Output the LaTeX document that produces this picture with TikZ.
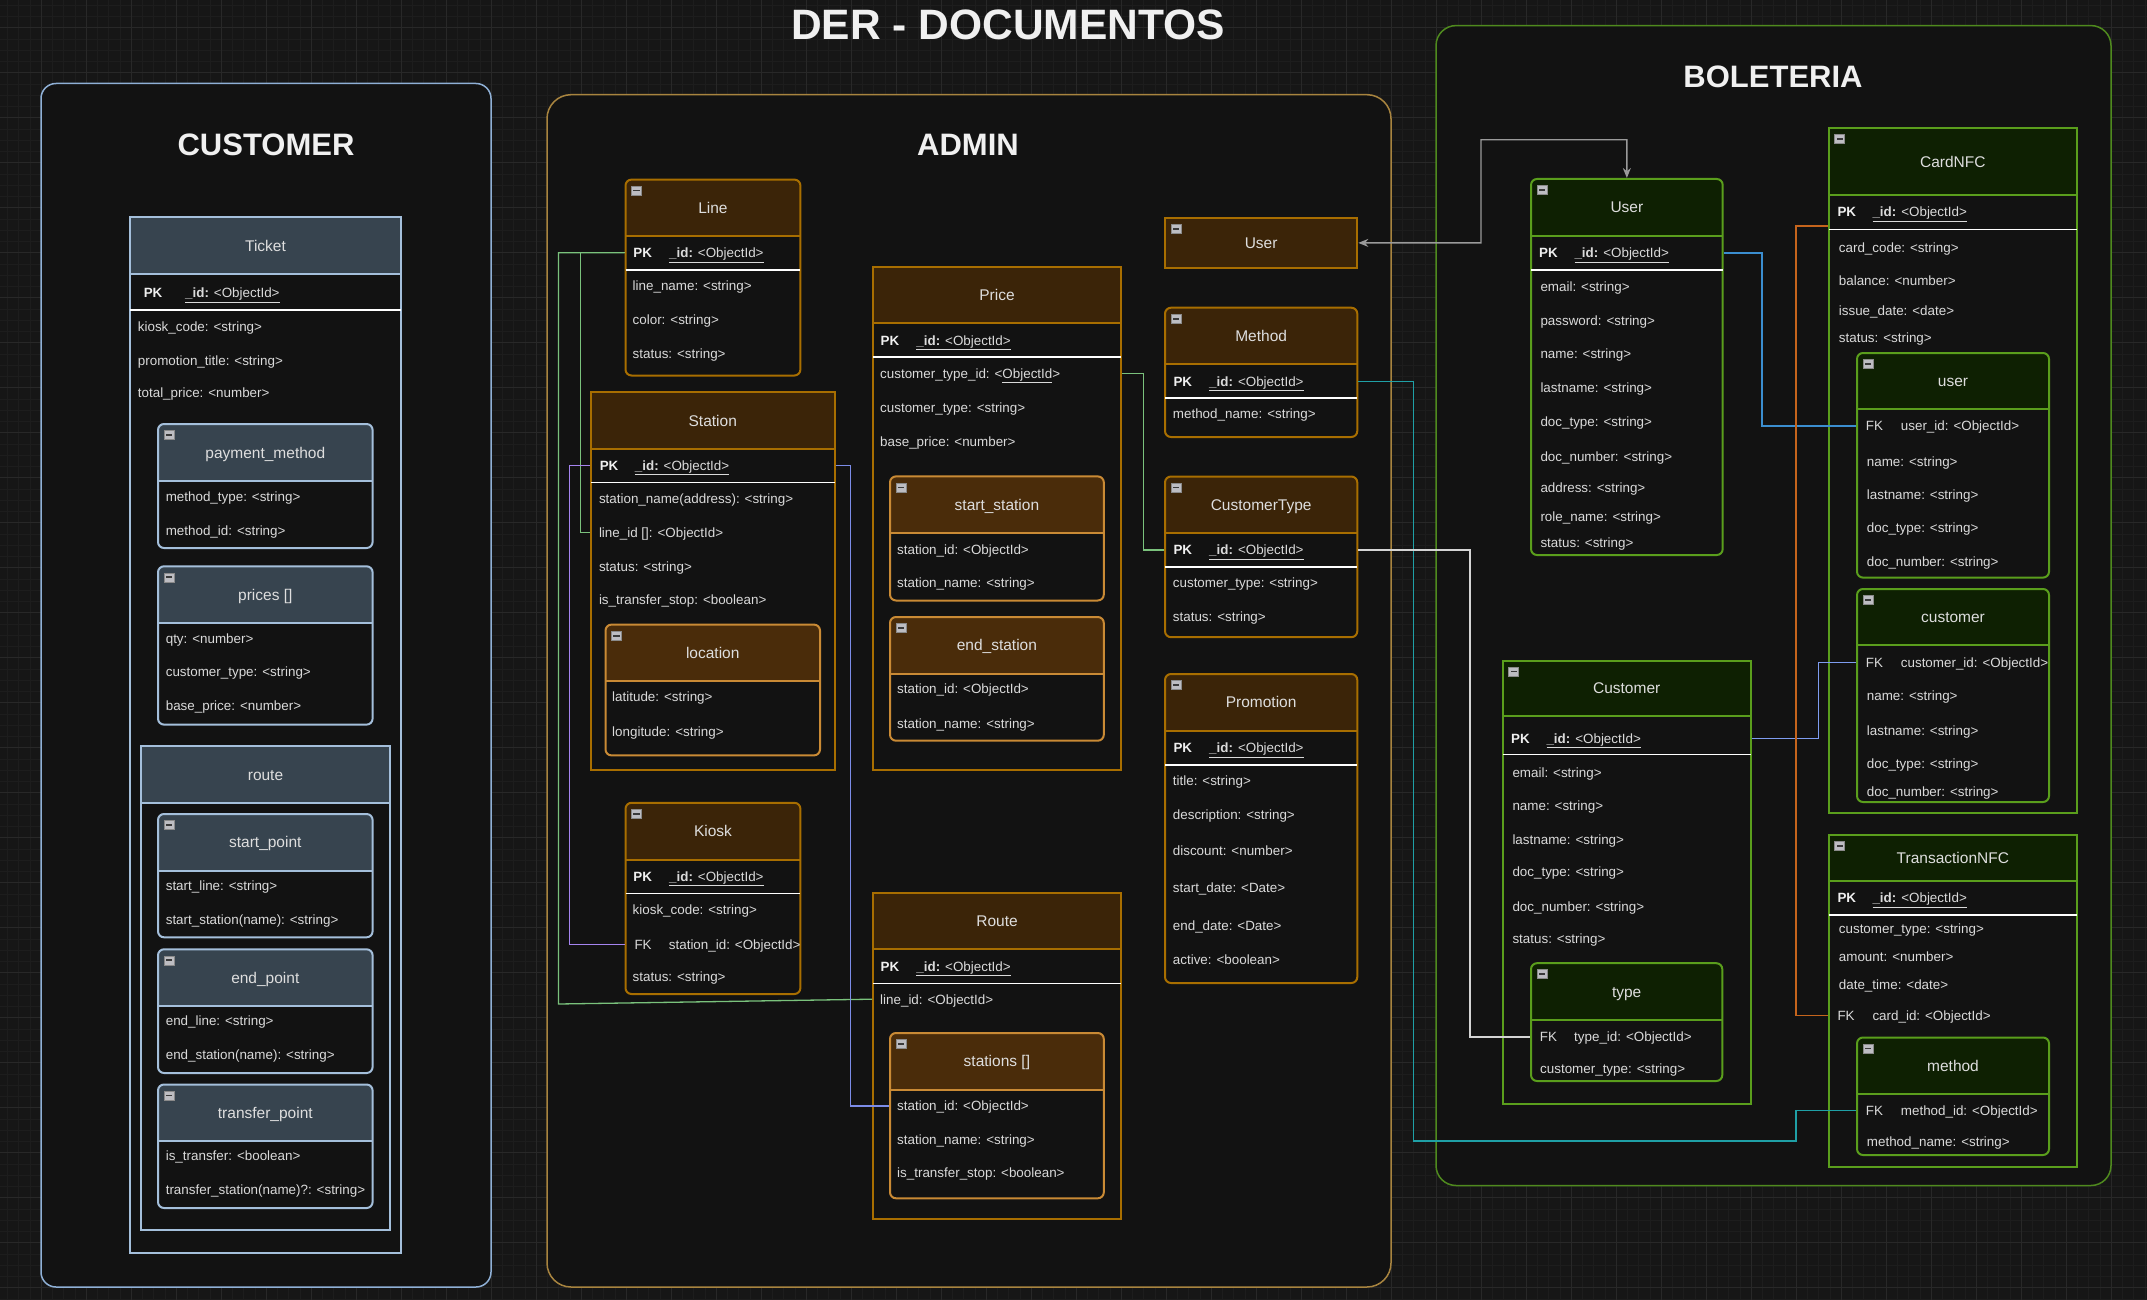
\documentclass[tikz,border=0pt]{standalone}
\usepackage{fontspec}
\setmainfont{Liberation Sans}
\usetikzlibrary{fit,arrows.meta}

\definecolor{bgc}{HTML}{161616}
\definecolor{gminor}{HTML}{1D1D1D}
\definecolor{gmajor}{HTML}{282828}
\definecolor{boxfill}{HTML}{121212}
\definecolor{txt}{HTML}{DADADA}
\definecolor{txth}{HTML}{DEDEDE}
\definecolor{txtb}{HTML}{F0F0F0}
\definecolor{cucont}{HTML}{8FB0D6}
\definecolor{custroke}{HTML}{A4BFDB}
\definecolor{cuheadc}{HTML}{37444F}
\definecolor{adcont}{HTML}{A8843F}
\definecolor{adstroke}{HTML}{A86E00}
\definecolor{adheadc}{HTML}{3B2408}
\definecolor{adnstroke}{HTML}{C98A35}
\definecolor{adnheadc}{HTML}{4A2C0A}
\definecolor{bocont}{HTML}{4F8A1E}
\definecolor{bostroke}{HTML}{5A9E1C}
\definecolor{boheadc}{HTML}{0E2002}
\definecolor{icofill}{HTML}{BDBDC2}
\definecolor{icoborder}{HTML}{8A8A8A}
\definecolor{icobar}{HTML}{3A3A3A}
\definecolor{cgreen}{HTML}{7AC27C}
\definecolor{cpurple}{HTML}{A584F0}
\definecolor{cblue}{HTML}{7C8CE8}
\definecolor{cteal}{HTML}{1FA0A6}
\definecolor{cwhite}{HTML}{D4D4D4}
\definecolor{cbluetwo}{HTML}{3B8ED0}
\definecolor{cperi}{HTML}{7E9CF0}
\definecolor{corange}{HTML}{C5641C}
\definecolor{cgray}{HTML}{9A9A9A}

\newcommand{\attrfont}{\fontsize{13.4}{16}\selectfont}
\newcommand{\hdrfont}{\fontsize{15.5}{18}\selectfont}
\newcommand{\secfont}{\fontsize{31}{36}\selectfont\bfseries}
\newcommand{\bigfont}{\fontsize{42.5}{50}\selectfont\bfseries}

\tikzset{
  att/.style={anchor=west, inner sep=0pt, text=txt, font=\attrfont, text height=9.6pt, text depth=0pt},
  pkst/.style={att, font=\attrfont\bfseries, text=txtb},
  ttl/.style={inner sep=0pt, text=txth, font=\hdrfont, text height=11.1pt, text depth=0pt},
  sectt/.style={inner sep=0pt, text=txtb, font=\secfont},
  bigt/.style={inner sep=0pt, text=txtb, font=\bigfont},
  cuhead/.style={fill=cuheadc}, cuframe/.style={draw=custroke, line width=2pt},
  adhead/.style={fill=adheadc}, adframe/.style={draw=adstroke, line width=2pt},
  adnhead/.style={fill=adnheadc}, adnframe/.style={draw=adnstroke, line width=2pt},
  bohead/.style={fill=boheadc}, boframe/.style={draw=bostroke, line width=2pt},
  sepw/.style={draw=white, line width=1.5pt},
  cont/.style={fill=boxfill, inner sep=0pt, line width=1.5pt},
  conn/.style={line width=1.3pt},
  micon/.style={draw=icoborder, fill=icofill, minimum width=10pt, minimum height=9pt, inner sep=0pt, line width=0.6pt,
    path picture={\fill[icobar] ([xshift=1.8pt,yshift=-0.9pt]path picture bounding box.west) rectangle ([xshift=-1.8pt,yshift=0.9pt]path picture bounding box.east);}},
}

% name, style, x1, y1, x2, y2, header bottom, title, radius
\newcommand{\tbl}[9]{%
  \coordinate (#1-nw) at (#3,#4);
  \coordinate (#1-se) at (#5,#6);
  \begin{scope}
    \clip[rounded corners=#9] (#3,#4) rectangle (#5,#6);
    \fill[boxfill] (#3,#4) rectangle (#5,#6);
    \fill[#2head] (#3,#4) rectangle (#5,#7);
  \end{scope}
  \draw[#2frame] (#3,#7) -- (#5,#7);
  \node[#2frame, fit=(#1-nw)(#1-se), inner sep=0pt, rounded corners=#9] (#1) {};
  \node[ttl] (#1-t) at ({(#3+#5)/2},{(#4+#7)/2}) {#8};
}
% name, xPK, xid, y, x1, x2, ysep
\newcommand{\pkrow}[7]{%
  \node[pkst] (#1-pk) at (#2,#4) {PK};
  \node[att] (#1-id) at (#3,#4) {\underline{\textbf{\_id:} <ObjectId>}};
  \draw[sepw] (#5,#7) -- (#6,#7);
}
% name, xFK, xtext, y, text
\newcommand{\fkrow}[5]{%
  \node[att] (#1-fkl) at (#2,#4) {FK};
  \node[att] (#1-fk) at (#3,#4) {#5};
}
\newcommand{\rows}[3]{%
  \foreach \ry/\rtxt [count=\ii] in {#3}{\node[att] (#1-r\ii) at (#2,\ry) {\rtxt};}%
}
\newcommand{\mico}[3]{\node[micon] (#1) at ({#2+11},{#3+11}) {};}

\begin{document}
\begin{tikzpicture}[x=1pt,y=-1pt]
\useasboundingbox (0,0) rectangle (2147,1300);
\fill[bgc] (0,0) rectangle (2147,1300);
\foreach \i in {0,...,191} \draw[gminor, line width=0.8pt] ({-3.7+11.25*\i},0) -- ({-3.7+11.25*\i},1300);
\foreach \i in {0,...,117} \draw[gminor, line width=0.8pt] (0,{-17.2+11.25*\i}) -- (2147,{-17.2+11.25*\i});
\foreach \i in {0,...,48} \draw[gmajor, line width=1pt] ({-3.7+45*\i},0) -- ({-3.7+45*\i},1300);
\foreach \i in {0,...,29} \draw[gmajor, line width=1pt] (0,{-17.2+45*\i}) -- (2147,{-17.2+45*\i});

\node[bigt] (title) at (1008,24.7) {DER - DOCUMENTOS};

% ---------- containers
\coordinate (cuA) at (41,83.5); \coordinate (cuB) at (491,1287);
\node[cont, draw=cucont, rounded corners=15pt, fit=(cuA)(cuB)] (custbox) {};
\node[sectt] (custt) at (266,145) {CUSTOMER};

\coordinate (adA) at (547,94.7); \coordinate (adB) at (1391,1287);
\node[cont, draw=adcont, rounded corners=24pt, fit=(adA)(adB)] (adminbox) {};
\node[sectt] (admint) at (968,145) {ADMIN};

\coordinate (boA) at (1436,25.6); \coordinate (boB) at (2111,1185.5);
\node[cont, draw=bocont, rounded corners=20pt, fit=(boA)(boB)] (bolbox) {};
\node[sectt] (bolt) at (1773,76.5) {BOLETERIA};

% ---------- CUSTOMER
\tbl{ticket}{cu}{130}{217}{401}{1253}{274}{Ticket}{0pt}
\pkrow{ticket}{143.6}{185}{293}{130}{401}{310}
\rows{ticket}{137.7}{326.3/{kiosk\_code: <string>},360.3/{promotion\_title: <string>},393/{total\_price: <number>}}

\tbl{paym}{cu}{158}{424}{372.6}{548}{481}{payment\_method}{6pt}
\mico{paym-i}{158}{424}
\rows{paym}{165.6}{497/{method\_type: <string>},531/{method\_id: <string>}}

\tbl{prices}{cu}{158}{566.3}{372.6}{724.6}{622.7}{prices []}{6pt}
\mico{prices-i}{158}{566.3}
\rows{prices}{165.6}{639/{qty: <number>},672/{customer\_type: <string>},706/{base\_price: <number>}}

\tbl{croute}{cu}{141}{746}{390}{1230.4}{803.4}{route}{0pt}

\tbl{spt}{cu}{158}{814}{372.6}{937.3}{870.6}{start\_point}{6pt}
\mico{spt-i}{158}{814}
\rows{spt}{165.6}{886/{start\_line: <string>},920/{start\_station(name): <string>}}

\tbl{ept}{cu}{158}{949.3}{372.6}{1073}{1005.7}{end\_point}{6pt}
\mico{ept-i}{158}{949.3}
\rows{ept}{165.6}{1021/{end\_line: <string>},1055/{end\_station(name): <string>}}

\tbl{tpt}{cu}{158}{1084.5}{372.6}{1208}{1141}{transfer\_point}{6pt}
\mico{tpt-i}{158}{1084.5}
\rows{tpt}{165.6}{1156/{is\_transfer: <boolean>},1190/{transfer\_station(name)?: <string>}}

% ---------- ADMIN
\tbl{line}{ad}{625.5}{179.6}{800.4}{375.5}{235.8}{Line}{6pt}
\mico{line-i}{625.5}{179.6}
\pkrow{line}{633.2}{669}{252.8}{625.5}{800.4}{270}
\rows{line}{632.5}{285.4/{line\_name: <string>},319.3/{color: <string>},353.2/{status: <string>}}

\tbl{station}{ad}{591}{392}{834.5}{769.7}{449}{Station}{0pt}
\pkrow{station}{599.6}{634.7}{465.7}{591}{834.5}{482.7}
\rows{station}{598.8}{498.3/{station\_name(address): <string>},532.2/{line\_id []: <ObjectId>},566.2/{status: <string>},599.2/{is\_transfer\_stop: <boolean>}}

\tbl{location}{adn}{605.5}{624.6}{820}{755.4}{681}{location}{6pt}
\mico{location-i}{605.5}{624.6}
\rows{location}{612}{697/{latitude: <string>},731.3/{longitude: <string>}}

\tbl{price}{ad}{873}{266.6}{1121}{769.7}{323.3}{Price}{0pt}
\pkrow{price}{880.4}{916.2}{340.7}{873}{1121}{357.2}
\rows{price}{880}{373.3/{customer\_type\_id: <\underline{ObjectId}>},407.2/{customer\_type: <string>},441.2/{base\_price: <number>}}

\tbl{sst}{adn}{890}{476.4}{1103.8}{600.5}{533}{start\_station}{6pt}
\mico{sst-i}{890}{476.4}
\rows{sst}{897}{549.2/{station\_id: <ObjectId>},582.2/{station\_name: <string>}}

\tbl{est}{adn}{890}{617}{1103.8}{740.7}{673.8}{end\_station}{6pt}
\mico{est-i}{890}{617}
\rows{est}{897}{689/{station\_id: <ObjectId>},723.3/{station\_name: <string>}}

\tbl{kiosk}{ad}{625.5}{802.8}{800.4}{994}{859.6}{Kiosk}{6pt}
\mico{kiosk-i}{625.5}{802.8}
\pkrow{kiosk}{633.2}{669}{876.5}{625.5}{800.4}{893.7}
\rows{kiosk}{632.5}{909.3/{kiosk\_code: <string>},976.2/{status: <string>}}
\fkrow{kiosk}{634.3}{668.7}{944.4}{station\_id: <ObjectId>}

\tbl{route}{ad}{873}{892.7}{1121}{1219.3}{949.2}{Route}{0pt}
\pkrow{route}{880.4}{916.2}{966.4}{873}{1121}{983.3}
\rows{route}{880}{999.2/{line\_id: <ObjectId>}}

\tbl{stations}{adn}{890}{1033}{1103.8}{1198.3}{1089.5}{stations []}{6pt}
\mico{stations-i}{890}{1033}
\rows{stations}{897}{1106/{station\_id: <ObjectId>},1139.2/{station\_name: <string>},1173/{is\_transfer\_stop: <boolean>}}

\tbl{auser}{ad}{1165}{217.8}{1357.3}{268}{268}{User}{0pt}
\mico{auser-i}{1165}{217.8}

\tbl{method}{ad}{1165}{307.7}{1357.3}{437}{364.3}{Method}{6pt}
\mico{method-i}{1165}{307.7}
\pkrow{method}{1173.3}{1209}{381.2}{1165}{1357.3}{398}
\rows{method}{1172.7}{414/{method\_name: <string>}}

\tbl{ctype}{ad}{1165}{476.5}{1357.3}{637.2}{533}{CustomerType}{6pt}
\mico{ctype-i}{1165}{476.5}
\pkrow{ctype}{1173.3}{1209}{550}{1165}{1357.3}{567.2}
\rows{ctype}{1172.7}{582.5/{customer\_type: <string>},616.2/{status: <string>}}

\tbl{promo}{ad}{1165}{674}{1357.3}{983}{730.8}{Promotion}{6pt}
\mico{promo-i}{1165}{674}
\pkrow{promo}{1173.3}{1209}{747.8}{1165}{1357.3}{764.8}
\rows{promo}{1172.7}{780.2/{title: <string>},814.2/{description: <string>},851/{discount: <number>},888/{start\_date: <Date>},925.7/{end\_date: <Date>},960/{active: <boolean>}}

% ---------- BOLETERIA
\tbl{buser}{bo}{1531}{179}{1722.7}{555}{235.7}{User}{6pt}
\mico{buser-i}{1531}{179}
\pkrow{buser}{1539}{1574.3}{253}{1531}{1722.7}{270.2}
\rows{buser}{1540.3}{287/{email: <string>},321/{password: <string>},354/{name: <string>},388/{lastname: <string>},422/{doc\_type: <string>},456.2/{doc\_number: <string>},487.2/{address: <string>},516.3/{role\_name: <string>},543/{status: <string>}}

\tbl{card}{bo}{1828.7}{128}{2077}{813}{195.3}{CardNFC}{0pt}
\mico{card-i}{1828.7}{128}
\pkrow{card}{1837.3}{1872.3}{212.1}{1828.7}{2077}{229.7}
\rows{card}{1838.7}{248.1/{card\_code: <string>},281/{balance: <number>},310.9/{issue\_date: <date>},338/{status: <string>}}

\tbl{cuser}{bo}{1857}{353}{2049}{577.6}{409.2}{user}{6pt}
\mico{cuser-i}{1857}{353}
\fkrow{cuser}{1865.7}{1900.7}{426}{user\_id: <ObjectId>}
\rows{cuser}{1866.7}{461.3/{name: <string>},494.2/{lastname: <string>},527.9/{doc\_type: <string>},562/{doc\_number: <string>}}

\tbl{ccust}{bo}{1857}{589}{2049}{802}{645}{customer}{6pt}
\mico{ccust-i}{1857}{589}
\fkrow{ccust}{1865.7}{1900.7}{662.2}{customer\_id: <ObjectId>}
\rows{ccust}{1866.7}{695.5/{name: <string>},730.7/{lastname: <string>},763.6/{doc\_type: <string>},791.8/{doc\_number: <string>}}

\tbl{trans}{bo}{1828.7}{834.6}{2077}{1167}{880.7}{TransactionNFC}{0pt}
\mico{trans-i}{1828.7}{834.6}
\pkrow{trans}{1837.3}{1872.3}{898}{1828.7}{2077}{914.8}
\rows{trans}{1838.7}{928.8/{customer\_type: <string>},957/{amount: <number>},984.5/{date\_time: <date>}}
\fkrow{trans}{1837.3}{1872.3}{1015.3}{card\_id: <ObjectId>}

\tbl{bmethod}{bo}{1857}{1037.5}{2049}{1155}{1093.6}{method}{6pt}
\mico{bmethod-i}{1857}{1037.5}
\fkrow{bmethod}{1865.7}{1900.7}{1110.2}{method\_id: <ObjectId>}
\rows{bmethod}{1866.7}{1142/{method\_name: <string>}}

\tbl{cust}{bo}{1502.7}{660.5}{1750.7}{1103.6}{716}{Customer}{0pt}
\mico{cust-i}{1502.7}{660.5}
\pkrow{cust}{1511}{1546.3}{738.2}{1502.7}{1750.7}{754.6}
\rows{cust}{1512.3}{772.2/{email: <string>},805.5/{name: <string>},839.2/{lastname: <string>},872/{doc\_type: <string>},906.2/{doc\_number: <string>},938.3/{status: <string>}}

\tbl{type}{bo}{1531}{963.2}{1722.3}{1081}{1019.8}{type}{6pt}
\mico{type-i}{1531}{963.2}
\fkrow{type}{1539.7}{1574}{1037}{type\_id: <ObjectId>}
\rows{type}{1540}{1068.4/{customer\_type: <string>}}

% ---------- connectors
\draw[conn, cgreen] (line.west |- line-pk) -- (558.5,252.8) -- (558.5,1004) -- (route.west |- route-r1);
\draw[conn, cgreen] (line.west |- line-pk) -- (580.7,252.8) |- (station.west |- station-r2);
\draw[conn, cgreen] (price.east |- price-r1) -- (1143.3,373.3) |- (ctype.west |- ctype-pk);
\draw[conn, cpurple] (station.west |- station-pk) -- (569.6,465.7) |- (kiosk.west |- kiosk-fk);
\draw[conn, cblue] (station.east |- station-pk) -- (850.8,465.7) |- (stations.west |- stations-r1);
\draw[conn, cteal] (method.east |- method-pk) -- (1413.3,381.2) -- (1413.3,1141) -- (1796,1141) |- (bmethod.west |- bmethod-fk);
\draw[conn, cwhite] (ctype.east |- ctype-pk) -- (1470,550) |- (type.west |- type-fk);
\draw[conn, cbluetwo] (buser.east |- buser-pk) -- (1762,253) |- (cuser.west |- cuser-fk);
\draw[conn, cperi] (cust.east |- cust-pk) -- (1818.3,738.2) |- (ccust.west |- ccust-fk);
\draw[conn, corange] (card.west |- 0,226) -- (1796,226) |- (trans.west |- trans-fk);
\draw[conn, cgray, {Stealth[length=10pt,width=8pt]}-{Stealth[length=10pt,width=8pt]}] (auser.east) -- (1481,242.9) -- (1481,139.7) -| (buser.north);
\end{tikzpicture}
\end{document}
